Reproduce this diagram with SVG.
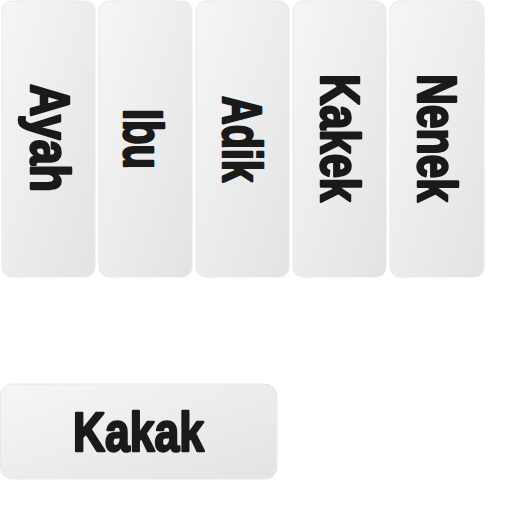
<svg xmlns="http://www.w3.org/2000/svg" width="512" height="512" viewBox="0 0 512 512">
<defs>
<linearGradient id="g" x1="0" y1="0" x2="1" y2="1">
<stop offset="0" stop-color="#f6f6f6"/>
<stop offset="1" stop-color="#e3e3e3"/>
</linearGradient>
<style>
.card{fill:url(#g);stroke:#e8e8e8;stroke-width:1}
.t{font-family:"Liberation Sans",Arial,sans-serif;font-weight:bold;font-size:55px;fill:#1a1a1a;stroke:#1a1a1a;stroke-width:2.5;stroke-linejoin:round;stroke-linecap:round;text-anchor:middle}
</style>
</defs>
<rect width="512" height="512" fill="#ffffff"/>
<g id="ayah">
<rect class="card" x="2" y="1" width="93" height="276" rx="10"/>
<text class="t" transform="translate(31,138) rotate(90)" textLength="108" lengthAdjust="spacingAndGlyphs">Ayah</text>
</g>
<g id="ibu">
<rect class="card" x="99" y="1" width="93" height="276" rx="10"/>
<text class="t" transform="translate(124,139) rotate(90)" textLength="60" lengthAdjust="spacingAndGlyphs">Ibu</text>
</g>
<g id="adik">
<rect class="card" x="196" y="1" width="93" height="276" rx="10"/>
<text class="t" transform="translate(223,139) rotate(90)" textLength="86" lengthAdjust="spacingAndGlyphs">Adik</text>
</g>
<g id="kakek">
<rect class="card" x="293" y="1" width="93" height="276" rx="10"/>
<text class="t" transform="translate(321,138) rotate(90)" textLength="128" lengthAdjust="spacingAndGlyphs">Kakek</text>
</g>
<g id="nenek">
<rect class="card" x="390" y="1" width="94" height="276" rx="10"/>
<text class="t" transform="translate(418,138) rotate(90)" textLength="128" lengthAdjust="spacingAndGlyphs">Nenek</text>
</g>
<g id="kakak">
<rect class="card" x="0.5" y="384" width="276.5" height="95" rx="12"/>
<text class="t" x="138.5" y="451" textLength="131" lengthAdjust="spacingAndGlyphs">Kakak</text>
</g>
<g id="connectors"/>
</svg>
